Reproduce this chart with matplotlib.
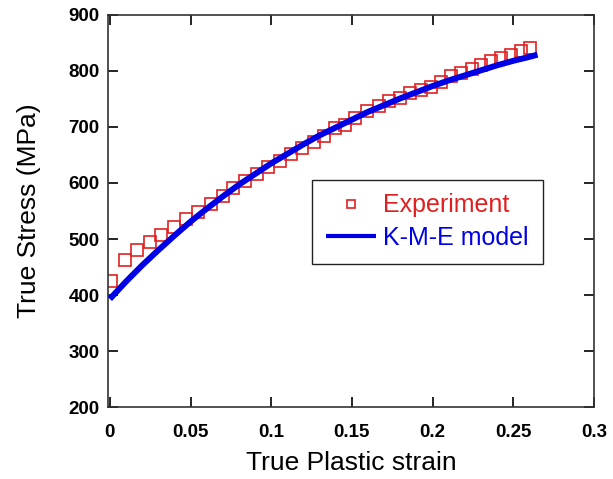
import matplotlib.pyplot as plt

plt.rcParams['font.family'] = ['Liberation Sans', 'DejaVu Sans']

# Experimental points (true plastic strain, true stress in MPa)
exp_strain = [0.001, 0.0093, 0.0166, 0.0248, 0.032, 0.0398, 0.047, 0.0548, 0.0625,
              0.0704, 0.0766, 0.0839, 0.0911, 0.0983, 0.1056, 0.1122, 0.119, 0.1263,
              0.1325, 0.1398, 0.146, 0.1522, 0.1594, 0.1667, 0.1729, 0.1801, 0.1863,
              0.1925, 0.1988, 0.205, 0.2112, 0.2174, 0.2247, 0.2298, 0.236, 0.2422,
              0.2484, 0.2547, 0.2602]
exp_stress = [425, 462, 480, 494, 508, 522, 536, 548, 562,
              576, 591, 603, 616, 629, 639, 651, 662, 674,
              683, 698, 704, 716, 728, 737, 746, 752, 760,
              766, 772, 781, 790, 796, 803, 811, 817, 823,
              829, 835, 841]

# K-M-E model curve
model_strain = [0.0, 0.01, 0.02, 0.03, 0.04, 0.05, 0.06, 0.07, 0.08, 0.09, 0.10,
                0.11, 0.12, 0.13, 0.14, 0.15, 0.16, 0.17, 0.18, 0.19, 0.20,
                0.21, 0.22, 0.23, 0.24, 0.25, 0.26, 0.265]
model_stress = [393, 424, 453, 480, 506, 531, 554, 576, 597, 616, 635,
                652, 669, 685, 699, 713, 727, 739, 751, 762, 773,
                783, 792, 801, 810, 818, 825, 829]

x_ticks = [0, 0.05, 0.1, 0.15, 0.2, 0.25, 0.3]
x_tick_labels = ['0', '0.05', '0.1', '0.15', '0.2', '0.25', '0.3']
y_ticks = [200, 300, 400, 500, 600, 700, 800, 900]

fig = plt.figure(figsize=(6.13, 4.79), dpi=100)
ax = fig.add_axes([0.176, 0.150, 0.793, 0.819])

ax.plot(exp_strain, exp_stress, linestyle='none', marker='s', markersize=9,
        markerfacecolor='none', markeredgecolor='#e02020', markeredgewidth=1.2,
        color='#e02020', label='Experiment', zorder=2)
ax.plot(model_strain, model_stress, color='#0000e6', linewidth=4.3,
        solid_capstyle='butt', label='K-M-E model', zorder=3)

ax.set_xlim(-0.0012, 0.3)
ax.set_ylim(200, 900)
ax.set_xticks(x_ticks)
ax.set_xticklabels(x_tick_labels)
ax.set_yticks(y_ticks)

ax.tick_params(direction='in', length=7, width=1.2, top=True, right=True,
               labelsize=13.5)
ax.tick_params(axis='x', pad=12)
ax.tick_params(axis='y', pad=6)
for lab in ax.get_xticklabels() + ax.get_yticklabels():
    lab.set_fontweight('bold')
for sp in ax.spines.values():
    sp.set_linewidth(1.2)
    sp.set_color('#333333')

ax.set_xlabel('True Plastic strain', fontsize=19, labelpad=7)
ax.set_ylabel('True Stress (MPa)', fontsize=19, labelpad=20)

leg = ax.legend(loc='upper left', bbox_to_anchor=(0.42, 0.58), fontsize=18,
                frameon=True, fancybox=False, edgecolor='#222222', framealpha=1,
                markerscale=0.7, handlelength=2.0, handletextpad=0.3,
                borderpad=0.55, labelspacing=0.35, borderaxespad=0)
leg.get_frame().set_linewidth(1.0)
leg.get_texts()[0].set_color('#e02020')
leg.get_texts()[1].set_color('#0000e6')
leg.get_lines()[1].set_linewidth(3)

fig.savefig('out.png', dpi=100)
